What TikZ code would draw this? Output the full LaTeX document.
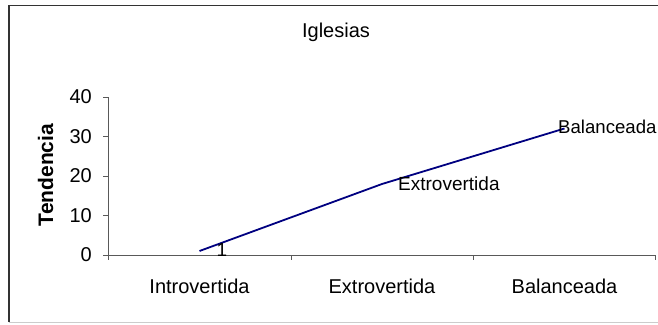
\documentclass[tikz,border=0pt]{standalone}
\usepackage{fontspec}
\setmainfont{Liberation Sans}
\usetikzlibrary{positioning}

\begin{document}
\begin{tikzpicture}[
  x=1pt, y=-1pt,
  frame/.style={draw=black!80, line width=1.2pt},
  axis/.style={draw=black!65, line width=0.9pt},
  series/.style={draw=blue!50!black, line width=1.8pt, line join=round},
  ticklabel/.style={font=\fontsize{20}{24}\selectfont, inner sep=0pt, anchor=east},
  catlabel/.style={font=\fontsize{20}{24}\selectfont, inner sep=0pt, anchor=base},
  datalabel/.style={font=\fontsize{19}{22}\selectfont, inner sep=0pt, anchor=base west}
]
\useasboundingbox (0,0) rectangle (658,324);

% === Chart frame ===
\draw[frame] (9,322) -- (9,5.5) -- (658,5.5);
\draw[draw=black!20, line width=1pt] (9,322) -- (658,322);

% === Title ===
\node[font=\fontsize{20}{24}\selectfont, inner sep=0pt, anchor=base] (title) at (336,37) {Iglesias};

% === Axes ===
\coordinate (origin) at (108,255);
\coordinate (ytop) at (108,97);
\coordinate (xend) at (655,255);
\draw[axis] (ytop) -- (origin) -- (xend);

% === Value ticks ===
\draw[axis] (103,255) -- (origin);
\draw[axis] (103,215.5) -- (108,215.5);
\draw[axis] (103,176) -- (108,176);
\draw[axis] (103,136.5) -- (108,136.5);
\draw[axis] (103,97) -- (ytop);
\node[ticklabel] (t0) at (92,255) {0};
\node[ticklabel] (t10) at (92,215.5) {10};
\node[ticklabel] (t20) at (92,176) {20};
\node[ticklabel] (t30) at (92,136.5) {30};
\node[ticklabel] (t40) at (92,97) {40};

% === Category ticks ===
\draw[axis] (origin) -- (108,260);
\draw[axis] (291,255) -- (291,260);
\draw[axis] (473,255) -- (473,260);
\draw[axis] (xend) -- (655,260);
\node[catlabel] (cintro) at (199.5,293) {Introvertida};
\node[catlabel] (cextro) at (382,293) {Extrovertida};
\node[catlabel] (cbal) at (564.5,293) {Balanceada};

% === Axis title ===
\node[font=\bfseries\fontsize{21}{24}\selectfont, inner sep=0pt, rotate=90] (ytitle) at (45.5,175) {Tendencia};

% === Data series ===
\coordinate (p1) at (199.5,251);
\coordinate (p2) at (382,184);
\coordinate (p3) at (564.5,128.5);
\draw[series] (p1) -- (p2) -- (p3);

% === Data labels ===
\node[datalabel] (l1) at (216.5,256.5) {1};
\node[datalabel] (l2) at (398,190) {Extrovertida};
\node[datalabel, font=\fontsize{18.6}{22}\selectfont] (l3) at (558,133) {Balanceada};

\end{tikzpicture}
\end{document}
